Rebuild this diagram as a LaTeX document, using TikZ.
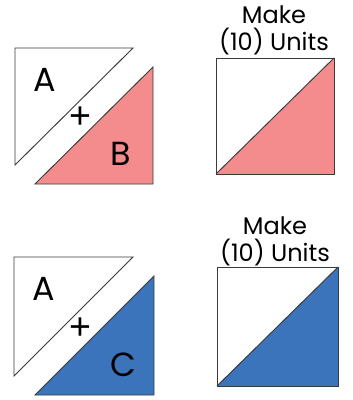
\documentclass[tikz,border=0pt]{standalone}
\usepackage{fontspec}
\setmainfont{Poppins}
\newfontfamily\plusfont{Liberation Sans}
\usepackage{tikz}
\definecolor{patchpink}{HTML}{F48C8E}
\definecolor{patchblue}{HTML}{3B74BA}
\definecolor{seamgray}{HTML}{3A3A3A}

\begin{document}
\begin{tikzpicture}[x=0.03cm, y=-0.03cm,
  patch/.style={draw=seamgray, line width=0.8pt, line join=miter},
  letter/.style={font=\fontsize{28.5}{29}\selectfont, inner sep=0pt},
  plus/.style={font=\plusfont\fontsize{32}{32}\selectfont, inner sep=0pt},
  caption/.style={font=\fontsize{20.5}{23}\selectfont, align=center, inner sep=0pt}
]
\useasboundingbox (0,0) rectangle (352,400);

% pink row
\draw[patch, fill=white]      (15,48) -- (133,48) -- (15,165) -- cycle;
\draw[patch, fill=patchpink]  (153,67) -- (153,184) -- (35,184) -- cycle;
\node[letter] (lA1) at (45,80)  {A};
\node[plus]   (pl1) at (80,118) {+};
\node[letter] (lB)  at (121,154) {B};

\node[caption] (cap1) at (274,30) {Make\\(10) Units};
\fill[patchpink] (216,174) -- (334,58) -- (334,174) -- cycle;
\draw[patch] (216,58) rectangle (334,174);
\draw[patch] (216,174) -- (334,58);

% blue row
\draw[patch, fill=white]      (14,257) -- (133,257) -- (14,376) -- cycle;
\draw[patch, fill=patchblue]  (154,276) -- (154,395) -- (35,395) -- cycle;
\node[letter] (lA2) at (44,289) {A};
\node[plus]   (pl2) at (80,329) {+};
\node[letter] (lC)  at (123,365) {C};

\node[caption] (cap2) at (275,241) {Make\\(10) Units};
\fill[patchblue] (217,386) -- (338,267) -- (338,386) -- cycle;
\draw[patch] (217,267) rectangle (338,386);
\draw[patch] (217,386) -- (338,267);
\end{tikzpicture}
\end{document}
